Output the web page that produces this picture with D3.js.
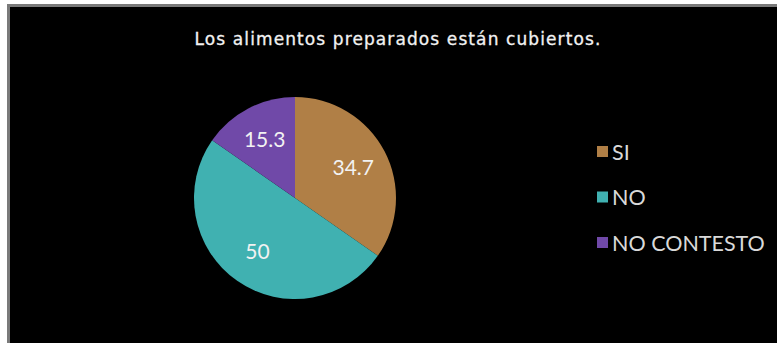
<!DOCTYPE html>
<html><head><meta charset="utf-8">
<script src="https://cdn.jsdelivr.net/npm/d3@7"></script>
<style>
html,body{margin:0;padding:0;background:#fff;}
svg{display:block;}
</style></head>
<body>
<svg id="chart" width="777" height="343"></svg>
<script>
const title = "Los alimentos preparados están cubiertos.";
const categories = ["SI", "NO", "NO CONTESTO"];
const values = [34.7, 50, 15.3];
const colors = ["#B07F46", "#40B1B1", "#7049A8"];

const svg = d3.select("#chart");
const W = 777, H = 343;

// outer frame
svg.append("rect").attr("x", 0).attr("y", 0).attr("width", W).attr("height", H).attr("fill", "#fff");
svg.append("rect").attr("x", 7).attr("y", 4).attr("width", W - 7).attr("height", H - 4).attr("fill", "#7a7a7a");
svg.append("rect").attr("x", 10).attr("y", 7).attr("width", W - 10).attr("height", H - 7).attr("fill", "#000");

svg.append("text")
  .attr("x", 398).attr("y", 45)
  .attr("text-anchor", "middle")
  .attr("font-family", "DejaVu Sans, sans-serif")
  .attr("font-size", 17)
  .attr("letter-spacing", 1.1)
  .attr("fill", "#f2f2f2")
  .attr("stroke", "#f2f2f2").attr("stroke-width", 0.3)
  .text(title);

const cx = 295, cy = 198, R = 101;
const pie = d3.pie().sort(null).value(d => d)(values);
const arc = d3.arc().innerRadius(0).outerRadius(R);
const labelArc = d3.arc().innerRadius(0).outerRadius(R * 1.3);

const g = svg.append("g").attr("transform", `translate(${cx},${cy})`);
g.selectAll("path.slice").data(pie).enter().append("path")
  .attr("class", "slice")
  .attr("d", arc)
  .attr("fill", (d, i) => colors[i]);

g.selectAll("text.lbl").data(pie).enter().append("text")
  .attr("class", "lbl")
  .attr("transform", d => { const c = labelArc.centroid(d); return `translate(${c[0]},${c[1]})`; })
  .attr("text-anchor", "middle")
  .attr("dy", "0.36em")
  .attr("font-family", "Lato, sans-serif")
  .attr("font-size", 21)
  .attr("fill", "#f2f2f2")
  .text(d => d.data);

const leg = svg.append("g");
const legY = d3.scalePoint().domain(categories).range([152, 243]);
categories.forEach((c, i) => {
  const y = legY(c);
  leg.append("rect").attr("x", 597).attr("y", y - 6).attr("width", 11).attr("height", 11).attr("fill", colors[i]);
  leg.append("text").attr("x", 612).attr("y", y).attr("dy", "0.36em")
    .attr("font-family", "Lato, sans-serif").attr("font-size", 21.5)
    .attr("fill", "#d9d9d9").text(c);
});
</script>
</body></html>
